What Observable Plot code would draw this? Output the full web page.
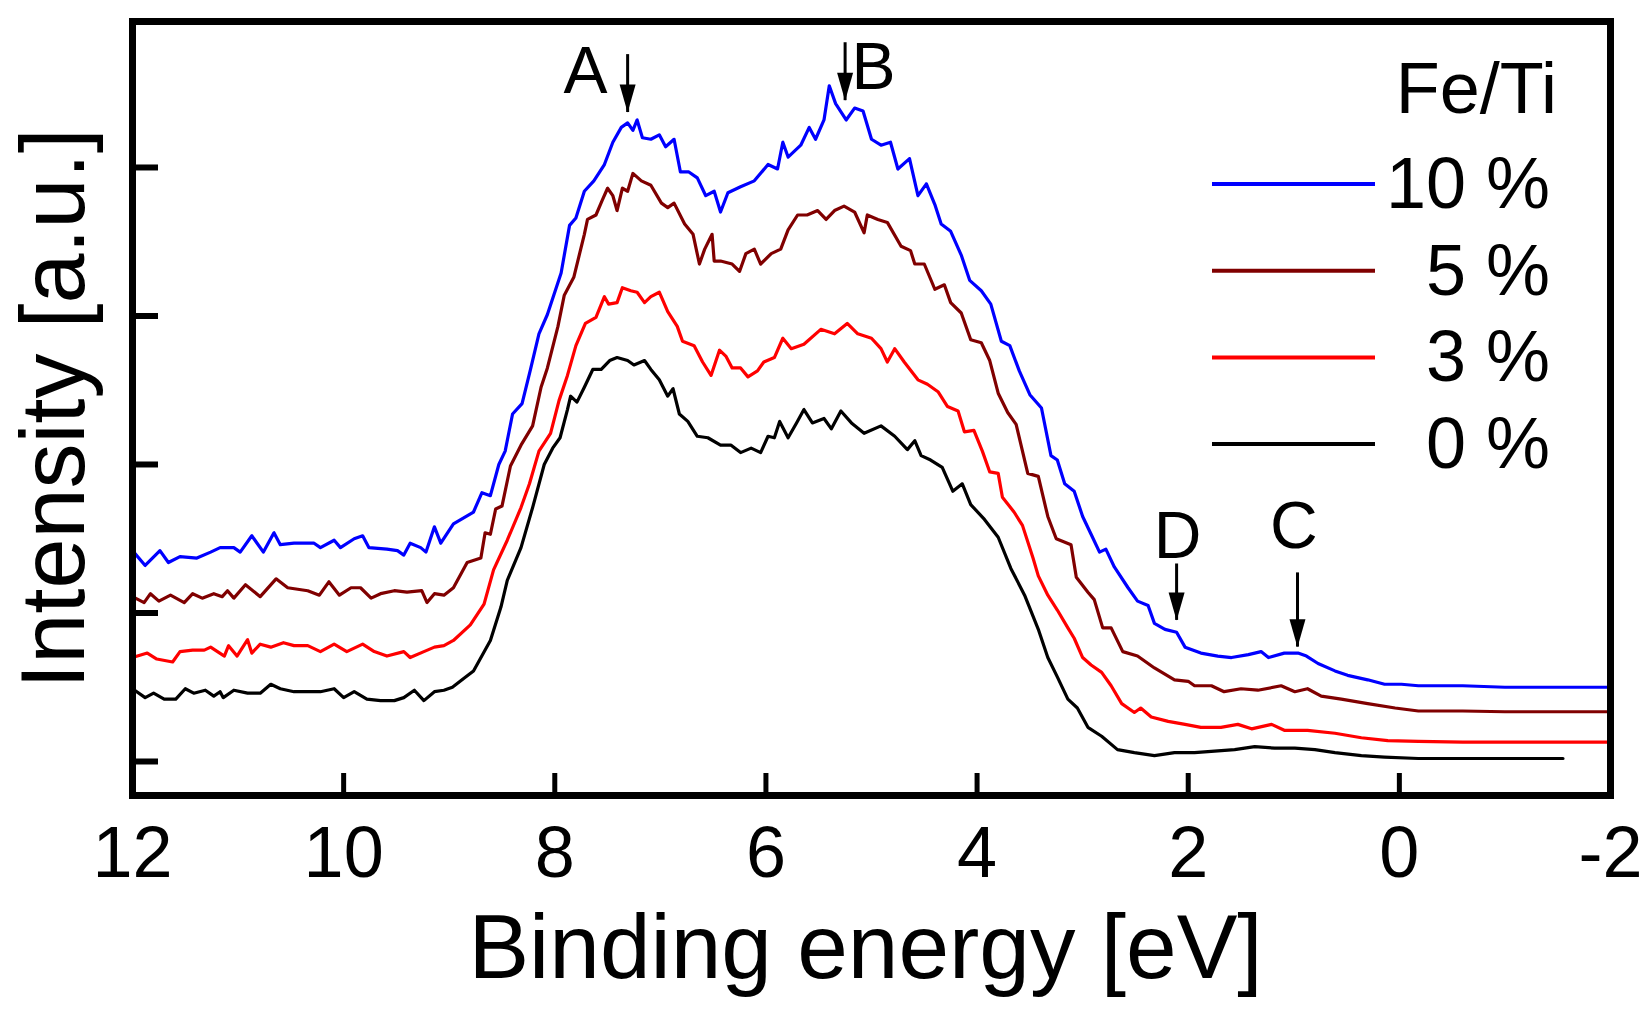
<!DOCTYPE html>
<html><head><meta charset="utf-8">
<script src="https://cdn.jsdelivr.net/npm/d3@7"></script>
<script src="https://cdn.jsdelivr.net/npm/@observablehq/plot@0.6"></script>
<style>
html,body{margin:0;padding:0;background:#fff;overflow:hidden}
#chart{position:relative;width:1649px;height:1012px}
</style>
</head><body><div id="chart"></div>
<script>
// ---- data (binding energy [eV], intensity [a.u.]) ----
const seriesNames = ["10 %", "5 %", "3 %", "0 %"];
const seriesColors = ["#0000ff", "#800000", "#ff0000", "#000000"];
const legendTitle = "Fe/Ti";

const fe10 = [[12.0,1.42],[11.88,1.32],[11.74,1.42],[11.66,1.34],[11.55,1.38],[11.39,1.37],[11.26,1.41],[11.17,1.44],[11.04,1.44],[10.98,1.41],[10.87,1.52],[10.76,1.41],[10.66,1.54],[10.60,1.46],[10.47,1.47],[10.28,1.47],[10.22,1.44],[10.09,1.49],[10.03,1.44],[9.90,1.50],[9.82,1.52],[9.76,1.44],[9.59,1.43],[9.49,1.42],[9.43,1.39],[9.37,1.47],[9.27,1.44],
[9.22,1.41],[9.14,1.58],[9.08,1.47],[8.96,1.60],[8.77,1.68],[8.69,1.81],[8.61,1.79],[8.53,2.00],[8.47,2.09],[8.40,2.34],[8.31,2.41],[8.23,2.64],[8.15,2.88],[8.07,3.01],[7.94,3.29],[7.86,3.61],[7.80,3.66],[7.72,3.84],[7.63,3.91],[7.53,4.02],[7.45,4.17],[7.37,4.27],[7.31,4.30],[7.26,4.25],[7.22,4.32],[7.17,4.20],[7.09,4.19],[7.01,4.22],[6.95,4.14],[6.87,4.19],[6.81,3.97],[6.73,3.97],[6.65,3.93],[6.57,3.81],[6.49,3.84],[6.43,3.70],[6.36,3.83],[6.24,3.87],[6.11,3.91],[5.98,4.02],[5.89,3.99],[5.84,4.17],[5.79,4.07],[5.67,4.15],[5.59,4.27],[5.53,4.19],[5.45,4.32],[5.40,4.55],[5.34,4.43],[5.24,4.32],[5.16,4.40],[5.08,4.38],[5.00,4.19],[4.91,4.15],[4.82,4.17],[4.75,3.99],[4.64,4.06],[4.56,3.81],[4.48,3.89],
[4.40,3.75],[4.34,3.62],[4.25,3.57],[4.15,3.41],[4.07,3.24],[3.96,3.17],[3.87,3.08],[3.77,2.83],[3.69,2.80],[3.60,2.63],[3.50,2.47],[3.39,2.38],[3.30,2.06],[3.24,2.03],[3.17,1.87],[3.08,1.82],[3.00,1.65],[2.92,1.53],[2.84,1.41],[2.78,1.43],[2.70,1.31],[2.57,1.17],[2.48,1.08],[2.38,1.05],[2.32,0.93],[2.22,0.89],[2.11,0.87],[2.03,0.77],[1.88,0.73],[1.72,0.71],[1.59,0.70],[1.43,0.72],[1.31,0.74],[1.24,0.70],[1.09,0.73],[0.96,0.73],[0.88,0.71],[0.77,0.66],[0.61,0.61],[0.49,0.58],[0.30,0.55],[0.14,0.52],[-0.02,0.52],[-0.18,0.51],[-0.6,0.51],[-1.0,0.50],[-1.5,0.50],[-2.0,0.50]];

const fe5 = [[12.0,1.11],[11.89,1.07],[11.83,1.13],[11.75,1.08],[11.64,1.12],[11.51,1.07],[11.43,1.13],[11.34,1.10],[11.23,1.13],[11.15,1.11],[11.10,1.15],[11.04,1.10],[10.93,1.19],[10.79,1.11],[10.64,1.23],[10.53,1.17],[10.34,1.15],[10.23,1.12],[10.14,1.21],[10.04,1.12],[9.93,1.17],[9.84,1.17],[9.74,1.10],[9.65,1.13],[9.52,1.15],[9.40,1.14],[9.26,1.15],[9.21,1.07],[9.14,1.13],[9.05,1.12],
[8.96,1.17],[8.83,1.34],[8.70,1.37],[8.66,1.54],[8.61,1.53],[8.56,1.70],[8.50,1.72],[8.42,1.99],[8.32,2.13],[8.21,2.26],[8.13,2.52],[8.07,2.65],[7.97,2.93],[7.91,3.14],[7.82,3.26],[7.72,3.55],[7.69,3.65],[7.61,3.68],[7.55,3.78],[7.50,3.86],[7.45,3.81],[7.41,3.71],[7.36,3.86],[7.31,3.84],[7.26,3.96],[7.18,3.91],[7.09,3.88],[6.99,3.76],[6.93,3.73],[6.87,3.76],[6.77,3.62],[6.69,3.55],[6.63,3.35],[6.58,3.45],[6.51,3.55],[6.49,3.37],[6.43,3.37],[6.32,3.35],[6.25,3.30],[6.19,3.42],[6.11,3.45],[6.05,3.35],[5.95,3.42],[5.86,3.45],[5.79,3.58],[5.70,3.68],[5.61,3.68],[5.51,3.71],[5.43,3.65],[5.35,3.71],[5.26,3.74],[5.16,3.70],[5.07,3.56],[5.04,3.68],[4.94,3.65],[4.85,3.63],[4.72,3.47],[4.63,3.44],[4.59,3.35],[4.50,3.35],
[4.40,3.18],[4.31,3.21],[4.25,3.09],[4.15,3.02],[4.06,2.84],[3.96,2.82],[3.88,2.70],[3.80,2.48],[3.71,2.35],[3.63,2.27],[3.52,1.94],[3.42,1.92],[3.33,1.65],[3.25,1.50],[3.11,1.46],[3.06,1.24],[2.95,1.14],[2.89,1.09],[2.81,0.90],[2.73,0.90],[2.62,0.74],[2.48,0.71],[2.32,0.63],[2.13,0.55],[2.00,0.54],[1.94,0.51],[1.78,0.51],[1.66,0.47],[1.50,0.49],[1.34,0.48],[1.12,0.51],[0.99,0.47],[0.87,0.49],[0.74,0.44],[0.55,0.42],[0.30,0.39],[0.04,0.36],[-0.18,0.34],[-0.6,0.34],[-1.0,0.335],[-1.5,0.335],[-2.0,0.335]];

const fe3 = [[12.0,0.70],[11.86,0.73],[11.77,0.69],[11.62,0.67],[11.55,0.74],[11.43,0.75],[11.32,0.75],[11.26,0.77],[11.13,0.71],[11.09,0.78],[11.01,0.71],[10.91,0.82],[10.87,0.73],[10.79,0.79],[10.69,0.77],[10.57,0.80],[10.47,0.78],[10.34,0.78],[10.22,0.74],[10.09,0.79],[9.97,0.74],[9.82,0.79],[9.71,0.74],[9.59,0.71],[9.43,0.74],[9.37,0.70],[9.24,0.74],[9.14,0.77],[9.05,0.78],[8.96,0.815],
[8.80,0.92],[8.67,1.06],[8.58,1.29],[8.45,1.49],[8.32,1.71],[8.24,1.87],[8.15,2.09],[8.04,2.21],[7.96,2.43],[7.88,2.60],[7.80,2.80],[7.71,2.95],[7.61,2.99],[7.53,3.13],[7.49,3.08],[7.41,3.09],[7.36,3.19],[7.28,3.17],[7.22,3.16],[7.15,3.09],[7.09,3.13],[7.01,3.16],[6.93,3.03],[6.84,2.93],[6.79,2.83],[6.68,2.80],[6.60,2.69],[6.52,2.60],[6.44,2.77],[6.38,2.73],[6.32,2.65],[6.24,2.65],[6.17,2.59],[6.08,2.63],[6.02,2.69],[5.92,2.72],[5.84,2.85],[5.76,2.78],[5.64,2.81],[5.48,2.91],[5.35,2.88],[5.23,2.95],[5.13,2.88],[5.00,2.85],[4.91,2.78],[4.85,2.69],[4.78,2.78],[4.69,2.69],[4.56,2.57],[4.47,2.54],
[4.37,2.49],[4.28,2.39],[4.18,2.36],[4.12,2.22],[4.03,2.23],[3.95,2.09],[3.88,1.95],[3.80,1.94],[3.76,1.78],[3.65,1.68],[3.57,1.59],[3.47,1.37],[3.42,1.25],[3.33,1.12],[3.24,1.02],[3.14,0.90],[3.08,0.83],[3.00,0.70],[2.92,0.65],[2.82,0.60],[2.73,0.51],[2.63,0.39],[2.51,0.33],[2.45,0.36],[2.35,0.30],[2.19,0.27],[2.03,0.25],[1.88,0.23],[1.69,0.23],[1.53,0.25],[1.40,0.22],[1.21,0.25],[1.09,0.21],[0.87,0.21],[0.61,0.19],[0.36,0.16],[0.11,0.14],[-0.18,0.135],[-0.6,0.13],[-1.0,0.13],[-1.5,0.13],[-2.0,0.13]];

const fe0 = [[12.0,0.49],[11.88,0.43],[11.80,0.46],[11.70,0.42],[11.59,0.42],[11.50,0.49],[11.42,0.46],[11.31,0.48],[11.23,0.44],[11.17,0.47],[11.14,0.43],[11.04,0.48],[10.91,0.46],[10.79,0.46],[10.69,0.52],[10.60,0.49],[10.47,0.47],[10.22,0.47],[10.09,0.49],[10.00,0.43],[9.90,0.47],[9.78,0.42],[9.65,0.41],[9.52,0.41],[9.43,0.43],[9.33,0.48],[9.24,0.41],[9.14,0.47],[9.05,0.48],[8.97,0.50],
[8.86,0.56],[8.77,0.61],[8.61,0.815],[8.51,1.04],[8.45,1.22],[8.32,1.44],[8.21,1.71],[8.10,2.00],[8.02,2.11],[7.95,2.18],[7.88,2.37],[7.85,2.46],[7.79,2.42],[7.72,2.52],[7.64,2.64],[7.56,2.64],[7.48,2.70],[7.41,2.72],[7.31,2.70],[7.25,2.67],[7.15,2.70],[7.09,2.64],[7.01,2.57],[6.93,2.46],[6.88,2.51],[6.82,2.34],[6.74,2.29],[6.65,2.19],[6.55,2.18],[6.43,2.13],[6.33,2.13],[6.24,2.08],[6.14,2.11],[6.05,2.08],[5.98,2.19],[5.92,2.18],[5.87,2.29],[5.79,2.18],[5.71,2.28],[5.64,2.37],[5.56,2.28],[5.45,2.31],[5.38,2.24],[5.29,2.36],[5.19,2.28],[5.07,2.21],[4.91,2.26],[4.78,2.19],[4.66,2.10],[4.59,2.16],[4.53,2.06],
[4.44,2.03],[4.33,1.98],[4.23,1.82],[4.14,1.87],[4.06,1.73],[3.93,1.63],[3.80,1.51],[3.68,1.30],[3.55,1.12],[3.42,0.89],[3.33,0.70],[3.24,0.57],[3.14,0.42],[3.05,0.36],[2.95,0.23],[2.82,0.17],[2.67,0.08],[2.51,0.06],[2.32,0.04],[2.13,0.06],[1.94,0.06],[1.75,0.07],[1.56,0.08],[1.37,0.10],[1.18,0.09],[0.99,0.09],[0.80,0.08],[0.61,0.06],[0.36,0.04],[0.14,0.03],[-0.18,0.02],[-0.6,0.02],[-1.0,0.02],[-1.55,0.02]];

const xTicks = [12, 10, 8, 6, 4, 2, 0, -2];
const xTickLabels = ["12", "10", "8", "6", "4", "2", "0", "-2"];
const yTicks = [0, 1, 2, 3, 4];
const xLabel = "Binding energy [eV]";
const yLabel = "Intensity [a.u.]";

// peak annotations
const annLabels = ["A", "B", "D", "C"];
const annTextX = [7.71, 4.98, 2.10, 1.00];
const annTextY = [4.50, 4.53, 1.37, 1.44];
const arrowX = [7.31, 5.25, 2.11, 0.965];
const arrowTop = [4.76, 4.84, 1.33, 1.27];
const arrowTip = [4.37, 4.45, 0.95, 0.77];

// ---- build ----
const allSeries = [fe10, fe5, fe3, fe0];
const rows = [];
allSeries.forEach((s, i) => s.forEach(([e, v]) => rows.push({series: seriesNames[i], energy: e, intensity: v})));
const ann = annLabels.map((t, i) => ({label: t, tx: annTextX[i], ty: annTextY[i], x: arrowX[i], y1: arrowTop[i], y2: arrowTip[i]}));

const arrowHead = {
  draw(context) {
    context.moveTo(0, 0);
    context.lineTo(-8, -28);
    context.lineTo(8, -28);
    context.closePath();
  }
};

const FONT = "'Liberation Sans', Arial, Helvetica, sans-serif";

const chart = Plot.plot({
  width: 1649,
  height: 1012,
  marginLeft: 132,
  marginRight: 39,
  marginTop: 21,
  marginBottom: 217,
  style: {fontFamily: FONT, background: "white", color: "black", overflow: "visible"},
  x: {domain: [12, -2]},
  y: {domain: [-0.229, 4.983], axis: null},
  color: {domain: seriesNames, range: seriesColors},
  marks: [
    Plot.line(rows.slice().reverse(), {x: "energy", y: "intensity", z: "series", stroke: "series", strokeWidth: 3.2, curve: "linear"}),
    Plot.tickX(xTicks, {x: d => d, insetTop: 752, strokeWidth: 5}),
    Plot.tickY(yTicks, {y: d => d, insetRight: 1452, strokeWidth: 6}),
    Plot.axisX({ticks: xTicks, tickFormat: d => xTickLabels[xTicks.indexOf(d)], tickSize: 0, tickPadding: 30, fontSize: 72, label: null}),
    Plot.ruleX(ann, {x: "x", y1: "y1", y2: "y2", strokeWidth: 3}),
    Plot.dot(ann, {x: "x", y: "y2", symbol: arrowHead, fill: "black", stroke: "none"}),
    Plot.text(ann, {x: "tx", y: "ty", text: "label", fontSize: 66, lineAnchor: "bottom", textAnchor: "middle"}),
    Plot.text([xLabel], {text: d => d, frameAnchor: "bottom", dx: -6, dy: 182, fontSize: 91, lineAnchor: "bottom"}),
    Plot.text([yLabel], {text: d => d, frameAnchor: "left", dx: -49, rotate: -90, fontSize: 90, lineAnchor: "bottom", textAnchor: "middle"}),
    Plot.frame({strokeWidth: 7})
  ]
});

const host = document.getElementById("chart");
host.appendChild(chart);

// legend overlay
const lg = d3.select(host).append("svg")
  .attr("width", 1649).attr("height", 1012)
  .style("position", "absolute").style("left", "0px").style("top", "0px")
  .style("font-family", FONT);
lg.append("text").attr("x", 1557).attr("y", 113).attr("text-anchor", "end")
  .attr("font-size", 72).text(legendTitle);
const step = 86.7;
seriesNames.forEach((name, i) => {
  lg.append("line").attr("x1", 1212).attr("x2", 1375)
    .attr("y1", 184 + i * step).attr("y2", 184 + i * step)
    .attr("stroke", seriesColors[i]).attr("stroke-width", 4);
  lg.append("text").attr("x", 1550).attr("y", 208 + i * step).attr("text-anchor", "end")
    .attr("font-size", 72).text(name);
});
</script>
</body></html>
